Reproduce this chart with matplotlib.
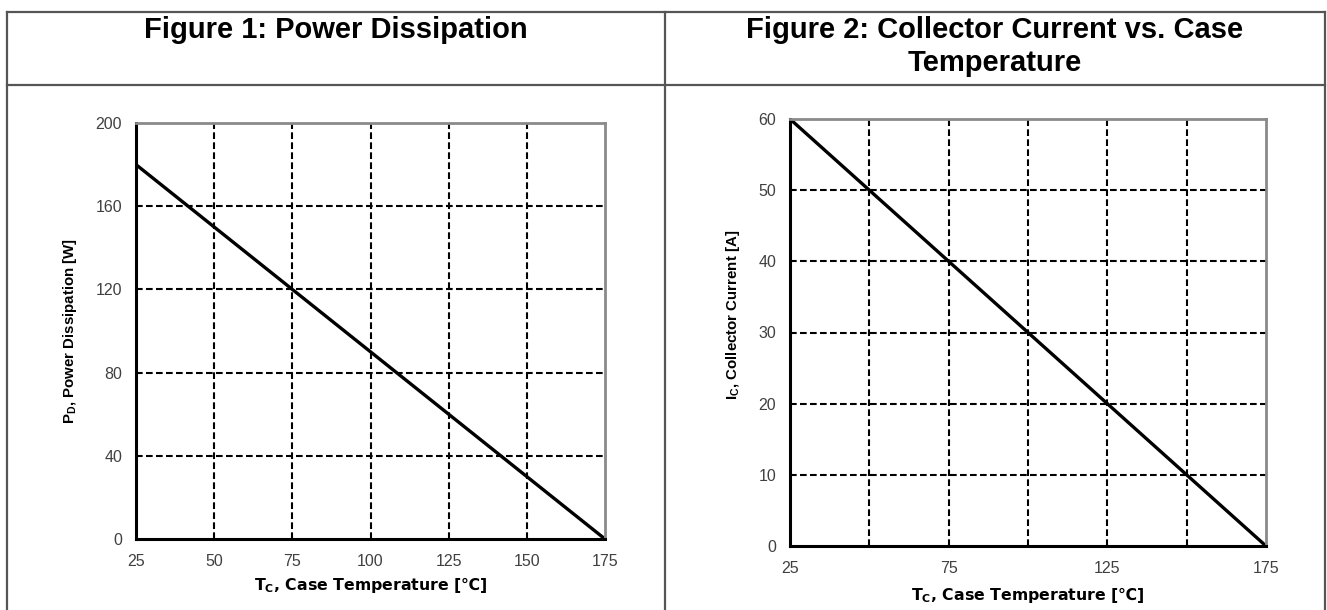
import matplotlib
matplotlib.use("Agg")
import matplotlib.pyplot as plt
from matplotlib.lines import Line2D

# figure 1 data
tc1 = [25, 50, 75, 100, 125, 150, 175]
pd1 = [180, 150, 120, 90, 60, 30, 0]
x1ticks = [25, 50, 75, 100, 125, 150, 175]
y1ticks = [0, 40, 80, 120, 160, 200]

# figure 2 data
tc2 = [25, 50, 75, 100, 125, 150, 175]
ic2 = [60, 50, 40, 30, 20, 10, 0]
x2ticks = [25, 75, 125, 175]
x2grid = [50, 75, 100, 125, 150]
y2ticks = [0, 10, 20, 30, 40, 50, 60]

W, H = 1327, 610
plt.rcParams['font.family'] = ['Liberation Sans', 'DejaVu Sans']
plt.rcParams['mathtext.fontset'] = 'dejavusans'

fig = plt.figure(figsize=(W / 100, H / 100), dpi=100)

def box(l, t, r, b):
    return [l / W, 1 - b / H, (r - l) / W, (b - t) / H]

def hline(y, x0, x1):
    fig.add_artist(Line2D([x0 / W, x1 / W], [1 - y / H, 1 - y / H], color='#555555', lw=1.6))

def vline(x, y0, y1):
    fig.add_artist(Line2D([x / W, x / W], [1 - y0 / H, 1 - y1 / H], color='#555555', lw=1.6))

# table frame
hline(12, 7, 1325)
hline(85, 7, 1325)
vline(7, 12, 610)
vline(665, 12, 610)
vline(1325, 12, 610)

tfont = dict(family=['Liberation Sans Narrow', 'Liberation Sans'], weight='bold', fontsize=21)
fig.text(336 / W, 1 - 30 / H, "Figure 1: Power Dissipation", ha='center', va='center', **tfont)
fig.text(995 / W, 1 - 30 / H, "Figure 2: Collector Current vs. Case", ha='center', va='center', **tfont)
fig.text(995 / W, 1 - 63 / H, "Temperature", ha='center', va='center', **tfont)

grid_ls = (0, (3.2, 1.6))

def style(ax):
    for s in ['left', 'bottom']:
        ax.spines[s].set_color('black')
        ax.spines[s].set_linewidth(2.2)
    for s in ['top', 'right']:
        ax.spines[s].set_color('#8a8a8a')
        ax.spines[s].set_linewidth(2)
    ax.tick_params(length=0, labelsize=11.5, labelcolor='#404040')
    ax.tick_params(axis='x', pad=11)
    ax.tick_params(axis='y', pad=10)

xlab = "T$_\\mathregular{C}$, Case Temperature [$\\mathbf{℃}$]"
xlfont = dict(family=['DejaVu Sans'], weight='bold', fontsize=11.3)
ylfont = dict(family=['Liberation Sans Narrow', 'Liberation Sans'], weight='bold', fontsize=10.8)

# left chart
ax1 = fig.add_axes(box(136, 123, 605, 539))
ax1.set_xlim(25, 175)
ax1.set_ylim(0, 200)
ax1.set_xticks(x1ticks)
ax1.set_yticks(y1ticks)
for x in x1ticks[1:-1]:
    ax1.axvline(x, color='black', lw=1.5, ls=grid_ls)
for y in y1ticks[1:-1]:
    ax1.axhline(y, color='black', lw=1.5, ls=grid_ls)
ax1.plot(tc1, pd1, color='black', lw=2.4, solid_capstyle='round')
style(ax1)
ax1.set_xlabel(xlab, labelpad=4, **xlfont)
ax1.set_ylabel("P$_\\mathregular{D}$, Power Dissipation [W]", labelpad=12, **ylfont)

# right chart
ax2 = fig.add_axes(box(790, 119, 1266, 546))
ax2.set_xlim(25, 175)
ax2.set_ylim(0, 60)
ax2.set_xticks(x2ticks)
ax2.set_yticks(y2ticks)
for x in x2grid:
    ax2.axvline(x, color='black', lw=1.5, ls=grid_ls)
for y in y2ticks[1:-1]:
    ax2.axhline(y, color='black', lw=1.5, ls=grid_ls)
ax2.plot(tc2, ic2, color='black', lw=2.4, solid_capstyle='round')
style(ax2)
ax2.set_xlabel(xlab, labelpad=6, **xlfont)
ax2.set_ylabel("I$_\\mathregular{C}$, Collector Current [A]", labelpad=12, **ylfont)
ax2.yaxis.label.set_y(0.54)

fig.savefig("out.png", dpi=100)
